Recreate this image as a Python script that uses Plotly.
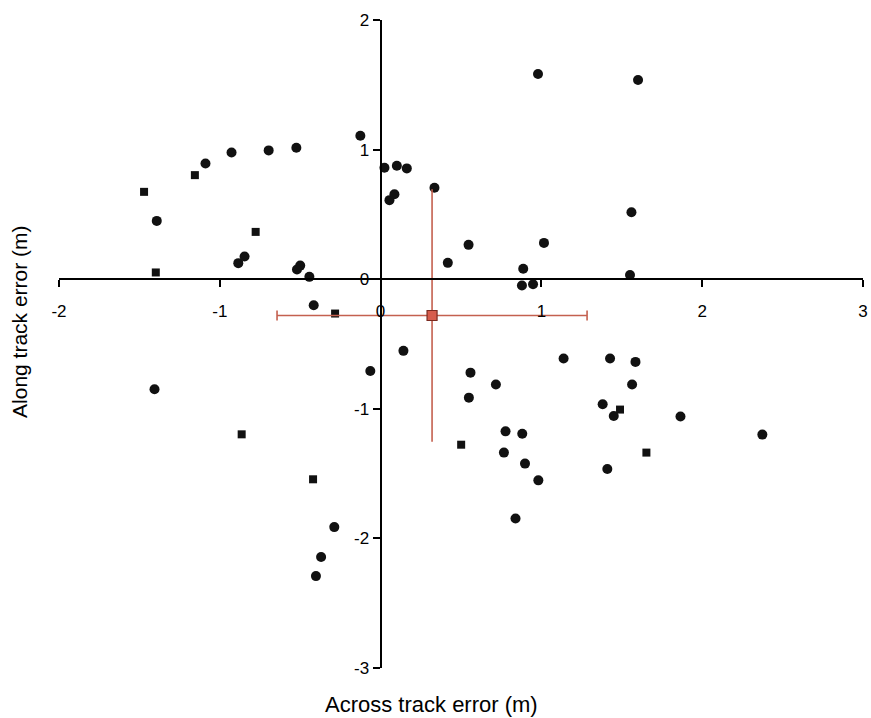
import plotly.graph_objects as go

# Data (metres)
circle_x = [-1.392, -1.089, -0.927, -0.696, -0.524, -0.126, -0.885, -0.846, -0.50, -0.52,
            -0.443, 0.024, 0.101, 0.163, 0.055, 0.086, 0.335, 0.418, 0.979, 1.601,
            1.560, 0.547, 1.016, 0.887, 1.551, 0.879, 0.948, -0.416, 0.142, -0.064,
            -1.406, -0.288, -0.370, -0.402, 1.138, 1.427, 1.585, 0.559, 0.717, 1.564,
            0.549, 1.381, 1.450, 1.865, 2.374, 0.777, 0.881, 0.767, 0.898, 1.410,
            0.981, 0.839]
circle_y = [0.450, 0.893, 0.978, 0.994, 1.014, 1.107, 0.124, 0.175, 0.105, 0.075,
            0.018, 0.860, 0.875, 0.855, 0.610, 0.656, 0.705, 0.126, 1.583, 1.537,
            0.517, 0.265, 0.280, 0.080, 0.033, -0.049, -0.039, -0.201, -0.553, -0.708,
            -0.849, -1.913, -2.144, -2.291, -0.612, -0.612, -0.638, -0.721, -0.813, -0.813,
            -0.914, -0.965, -1.055, -1.060, -1.199, -1.174, -1.192, -1.338, -1.423, -1.465,
            -1.552, -1.846]

square_x = [-1.471, -1.398, -1.155, -0.777, -0.283, -0.864, -0.420, 1.489, 0.501, 1.653]
square_y = [0.674, 0.052, 0.803, 0.365, -0.265, -1.197, -1.544, -1.006, -1.277, -1.338]

mean_x = [0.32]
mean_y = [-0.28]
sd_x = [0.964]
sd_y = [0.975]

x_ticks = [-2, -1, 0, 1, 2, 3]
y_ticks = [-3, -2, -1, 0, 1, 2]

FONT = "Liberation Sans, Arial, sans-serif"

fig = go.Figure()
fig.add_trace(go.Scatter(x=circle_x, y=circle_y, mode="markers",
                         marker=dict(symbol="circle", size=10, color="#111111"),
                         showlegend=False))
fig.add_trace(go.Scatter(x=square_x, y=square_y, mode="markers",
                         marker=dict(symbol="square", size=8, color="#111111"),
                         showlegend=False))
fig.add_trace(go.Scatter(x=mean_x, y=mean_y, mode="markers",
                         marker=dict(symbol="square", size=10, color="#d65c4c",
                                     line=dict(color="#7a2a20", width=1.2)),
                         error_x=dict(type="data", array=sd_x, color="#c4604f",
                                      thickness=1.6, width=5),
                         error_y=dict(type="data", array=sd_y, color="#c4604f",
                                      thickness=1.6, width=0),
                         showlegend=False))

fig.update_layout(
    width=871, height=718,
    margin=dict(l=59, r=8, t=20, b=50),
    paper_bgcolor="white", plot_bgcolor="white",
    font=dict(family=FONT, size=17, color="black"),
    xaxis=dict(range=[-2, 3], tickvals=x_ticks, ticktext=[str(v) for v in x_ticks],
               anchor="free", position=0.6, showline=True, linecolor="black",
               linewidth=2, ticks="outside", ticklen=7, tickwidth=1.5,
               tickcolor="black", showgrid=False, zeroline=False,
               ticklabelstandoff=9, domain=[0, 1], automargin=False),
    yaxis=dict(range=[-3, 2], tickvals=y_ticks, ticktext=[str(v) for v in y_ticks],
               anchor="free", position=0.4, showline=True, linecolor="black",
               linewidth=2, ticks="outside", ticklen=7, tickwidth=1.5,
               tickcolor="black", showgrid=False, zeroline=False, domain=[0, 1],
               automargin=False),
    annotations=[
        dict(text="Across track error (m)", xref="paper", yref="paper",
             x=0.4627, y=-0.0556, xanchor="center", yanchor="middle",
             showarrow=False, font=dict(family=FONT, size=22, color="black")),
        dict(text="Along track error (m)", xref="paper", yref="paper",
             x=-0.0485, y=0.534, xanchor="center", yanchor="middle",
             textangle=-90, showarrow=False,
             font=dict(family=FONT, size=21, color="black")),
    ],
)

fig.write_html("out.html")
